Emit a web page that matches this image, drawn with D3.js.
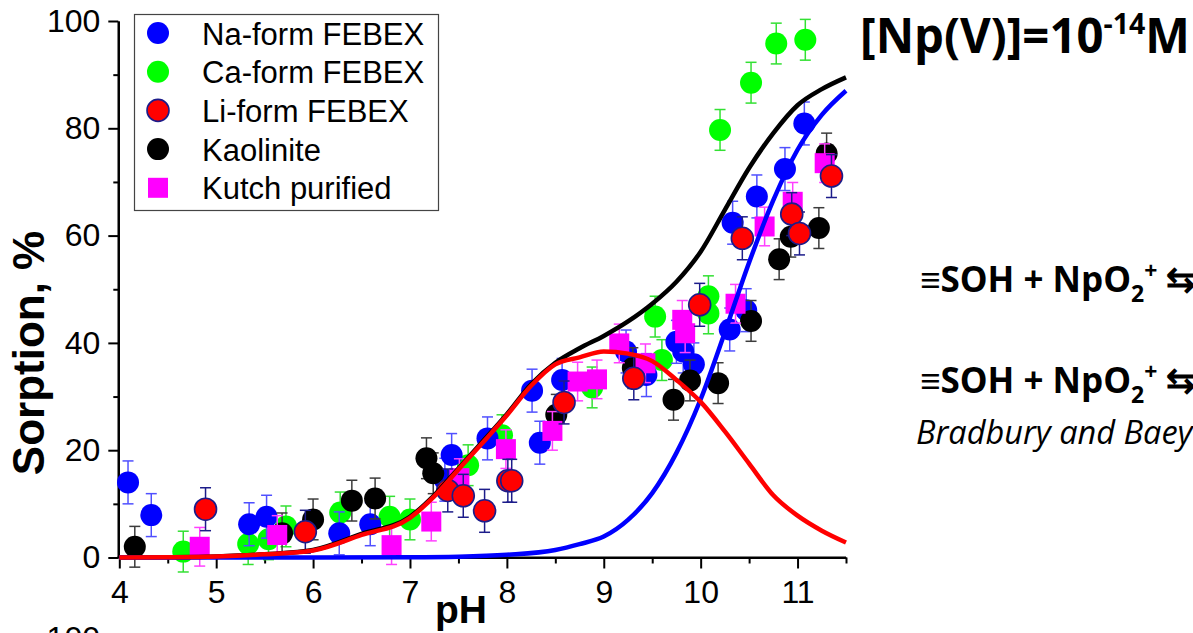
<!DOCTYPE html>
<html>
<head>
<meta charset="utf-8">
<script src="https://cdn.jsdelivr.net/npm/d3@7"></script>
<style>
  html, body { margin: 0; padding: 0; background: #fff; overflow: hidden; }
  svg { display: block; }
</style>
</head>
<body>
<svg id="chart" width="1193" height="633"></svg>
<script>
// ---- measured sorption data (pH, % sorbed) ----
const naPH   = [4.09, 4.33, 5.34, 5.52, 6.27, 6.59, 7.36, 7.43, 7.80, 8.26, 8.34, 8.57, 9.23, 9.44, 9.75, 9.82, 9.93, 10.30, 10.33, 10.47, 10.58, 10.87, 11.07];
const naSorp = [14.0, 7.9, 6.2, 7.6, 4.5, 6.2, 14.5, 19.1, 22.2, 31.1, 21.4, 33.1, 38.4, 34.0, 40.2, 38.4, 36.0, 42.5, 62.4, 46.1, 67.3, 72.4, 80.9];

const caPH   = [4.66, 5.33, 5.54, 5.72, 6.28, 6.79, 7.00, 7.60, 7.95, 8.88, 9.53, 9.60, 10.08, 10.08, 10.20, 10.52, 10.78, 11.08];
const caSorp = [1.1, 2.5, 3.4, 5.8, 8.4, 7.6, 7.1, 17.2, 22.8, 31.7, 44.9, 36.8, 48.7, 45.5, 79.7, 88.5, 95.8, 96.5];

const liPH   = [4.89, 5.92, 7.39, 7.55, 7.77, 8.01, 8.05, 8.59, 9.31, 9.99, 10.43, 10.94, 11.02, 11.35];
const liSorp = [9.0, 4.8, 12.5, 11.5, 8.7, 14.3, 14.3, 28.9, 33.4, 47.1, 59.5, 64.0, 60.4, 71.1];

const kaoPH   = [4.16, 5.68, 6.00, 6.40, 6.64, 7.17, 7.24, 8.51, 9.30, 9.72, 9.89, 10.18, 10.52, 10.81, 10.93, 11.22, 11.30];
const kaoSorp = [2.0, 4.5, 7.1, 10.6, 11.0, 18.5, 15.7, 26.6, 35.3, 29.4, 33.0, 32.5, 44.1, 55.6, 59.8, 61.4, 75.3];

const kutPH   = [4.83, 5.63, 6.81, 7.22, 7.51, 7.99, 8.47, 8.73, 8.93, 9.16, 9.43, 9.81, 9.84, 10.36, 10.66, 10.95, 11.28];
const kutSorp = [2.0, 4.2, 2.3, 6.7, 14.8, 20.2, 23.6, 32.8, 33.2, 39.9, 36.2, 44.3, 41.8, 47.3, 61.7, 66.3, 73.5];

// experimental uncertainty (± % sorbed) for each series
const naErr  = 4, caErr = 3.8, liErr = 4, kaoErr = 3.8, kutErr = 3.6;

// ---- model curves ----
const totalPH   = [4, 4.5, 5, 5.5, 6, 6.5, 7, 7.25, 7.5, 7.75, 8, 8.25, 8.5, 8.75, 9, 9.25, 9.5, 9.75, 10, 10.25, 10.5, 10.75, 11, 11.25, 11.5];
const totalSorp = [0, 0.05, 0.2, 0.6, 1.4, 4.4, 7.6, 11.6, 16.6, 21.6, 26.7, 32.3, 36.3, 39.0, 41.3, 44.0, 47.3, 51.4, 57.0, 64.8, 72.6, 79.1, 84.3, 87.3, 89.5];

const site1PH   = [4, 4.5, 5, 5.5, 6, 6.5, 7, 7.25, 7.5, 7.75, 8, 8.25, 8.5, 8.75, 9, 9.25, 9.5, 9.75, 10, 10.25, 10.5, 10.75, 11, 11.25, 11.5];
const site1Sorp = [0, 0.05, 0.2, 0.6, 1.3, 4.2, 7.4, 11.4, 16.4, 21.4, 26.5, 32.0, 36.0, 37.3, 38.4, 38.0, 36.6, 33.1, 29.0, 23.5, 17.5, 11.6, 7.8, 5.0, 2.8];

const site2PH   = [4, 5, 6, 7, 7.5, 8, 8.5, 8.75, 9, 9.25, 9.5, 9.75, 10, 10.25, 10.5, 10.75, 11, 11.25, 11.5];
const site2Sorp = [0, 0, 0.01, 0.05, 0.15, 0.5, 1.4, 2.5, 3.9, 7.0, 12.0, 19.5, 29.5, 42.0, 55.0, 66.6, 76.0, 82.5, 87.0];

// ---- axis ticks ----
const xMajor = [4, 5, 6, 7, 8, 9, 10, 11];
const xMinor = [4.5, 5.5, 6.5, 7.5, 8.5, 9.5, 10.5, 11.5];
const yMajor = [0, 20, 40, 60, 80, 100];
const yMinor = [10, 30, 50, 70, 90];

const legendNames = ["Na-form FEBEX", "Ca-form FEBEX", "Li-form FEBEX", "Kaolinite", "Kutch purified"];

// ---- build ----
const svg = d3.select("#chart");
const x = d3.scaleLinear().domain([4, 11.5]).range([119.3, 846]);
const y = d3.scaleLinear().domain([0, 100]).range([557.5, 21]);

const zip = (a, b) => a.map((v, i) => ({ x: v, y: b[i] }));

const series = {
  na:  { name: legendNames[0], pts: zip(naPH, naSorp),   err: naErr,  shape: "circle", fill: "#0000ff", stroke: "none",    errColor: "#5050ff" },
  ca:  { name: legendNames[1], pts: zip(caPH, caSorp),   err: caErr,  shape: "circle", fill: "#00ff00", stroke: "none",    errColor: "#33e033" },
  li:  { name: legendNames[2], pts: zip(liPH, liSorp),   err: liErr,  shape: "circle", fill: "#ff0000", stroke: "#1c1c8a", errColor: "#1c1c8a" },
  kao: { name: legendNames[3], pts: zip(kaoPH, kaoSorp), err: kaoErr, shape: "circle", fill: "#000000", stroke: "none",    errColor: "#3c3c3c" },
  kut: { name: legendNames[4], pts: zip(kutPH, kutSorp), err: kutErr, shape: "square", fill: "#ff00ff", stroke: "none",    errColor: "#ff40ff" }
};
const legendOrder = ["na", "ca", "li", "kao", "kut"];
const drawOrder = ["ca", "na", "kao", "kut", "li"];

const R = 11, SQ = 20, CAP = 5.5;

function drawMarker(g, s, cx, cy) {
  if (s.shape === "circle") {
    g.append("circle").attr("cx", cx).attr("cy", cy).attr("r", R)
      .attr("fill", s.fill)
      .attr("stroke", s.stroke).attr("stroke-width", s.stroke === "none" ? 0 : 1.6);
  } else {
    g.append("rect").attr("x", cx - SQ / 2).attr("y", cy - SQ / 2)
      .attr("width", SQ).attr("height", SQ).attr("fill", s.fill);
  }
}

// axes
const axisFont = "'Liberation Sans', Arial, sans-serif";

const gx = svg.append("g").attr("transform", `translate(0,${y(0)})`)
  .call(d3.axisBottom(x).tickValues(xMajor).tickSize(11).tickSizeOuter(0).tickPadding(12).tickFormat(d3.format("d")));
const gxm = svg.append("g").attr("transform", `translate(0,${y(0)})`)
  .call(d3.axisBottom(x).tickValues(xMinor).tickSize(6).tickSizeOuter(0).tickFormat(""));
const gy = svg.append("g").attr("transform", `translate(${x(4) - 1},0)`)
  .call(d3.axisLeft(y).tickValues(yMajor).tickSize(10).tickSizeOuter(0).tickPadding(8).tickFormat(d3.format("d")));
const gym = svg.append("g").attr("transform", `translate(${x(4) - 1},0)`)
  .call(d3.axisLeft(y).tickValues(yMinor).tickSize(5).tickSizeOuter(0).tickFormat(""));

[gx, gxm, gy, gym].forEach(g => {
  g.selectAll("path.domain").attr("stroke", "#000").attr("stroke-width", 2.2);
  g.selectAll(".tick line").attr("stroke", "#000").attr("stroke-width", 2);
  g.selectAll(".tick text").attr("font-family", axisFont).attr("font-size", 32).attr("fill", "#000");
});
gx.select("path.domain").attr("d", `M${x(4) - 2},0H${x(11.5)}`);

// axis titles
svg.append("text").attr("x", 461).attr("y", 623).attr("text-anchor", "middle")
  .attr("font-family", axisFont).attr("font-weight", "bold").attr("font-size", 39).text("pH");
svg.append("text").attr("transform", "translate(44,353) rotate(-90)").attr("text-anchor", "middle")
  .attr("font-family", axisFont).attr("font-weight", "bold").attr("font-size", 44).text("Sorption, %");

// next panel's top tick label, partly below the frame
svg.append("text").attr("x", 100).attr("y", 649).attr("text-anchor", "end")
  .attr("font-family", axisFont).attr("font-size", 32).text("100");

// data: error bars then markers, series by series
const plot = svg.append("g");
drawOrder.forEach(key => {
  const s = series[key];
  const g = plot.append("g");
  s.pts.forEach(p => {
    const cx = x(p.x), y0 = y(p.y - s.err), y1 = y(p.y + s.err);
    g.append("line").attr("x1", cx).attr("x2", cx).attr("y1", y0).attr("y2", y1)
      .attr("stroke", s.errColor).attr("stroke-width", 1.5);
    [y0, y1].forEach(yy => g.append("line").attr("x1", cx - CAP).attr("x2", cx + CAP)
      .attr("y1", yy).attr("y2", yy).attr("stroke", s.errColor).attr("stroke-width", 1.5));
  });
  s.pts.forEach(p => drawMarker(g, s, x(p.x), y(p.y)));
});

// model curves
const line = d3.line().x(d => x(d.x)).y(d => y(d.y)).curve(d3.curveMonotoneX);
[
  { pts: zip(totalPH, totalSorp), color: "#000000" },
  { pts: zip(site2PH, site2Sorp), color: "#0000ff" },
  { pts: zip(site1PH, site1Sorp), color: "#ff0000" }
].forEach(c => {
  svg.append("path").attr("d", line(c.pts)).attr("fill", "none")
    .attr("stroke", c.color).attr("stroke-width", 4.5).attr("stroke-linejoin", "round");
});

// legend
const lg = svg.append("g");
lg.append("rect").attr("x", 134.5).attr("y", 14.5).attr("width", 304).attr("height", 196)
  .attr("fill", "#fff").attr("stroke", "#444").attr("stroke-width", 1.2);
legendOrder.forEach((key, i) => {
  const s = series[key];
  const cy = 33 + i * 38.7;
  drawMarker(lg, s, 158, cy);
  lg.append("text").attr("x", 202).attr("y", cy + 11.5).attr("font-family", axisFont)
    .attr("font-size", 31).attr("fill", "#000").text(s.name);
});

// annotations
const noteFont = "'Open Sans', 'Noto Sans', sans-serif";
const title = svg.append("text").attr("x", 860).attr("y", 53)
  .attr("font-family", noteFont).attr("font-weight", "bold").attr("font-size", 48).attr("fill", "#000");
title.append("tspan").text("[Np(V)]=10");
title.append("tspan").attr("font-size", 29).attr("dy", -19).text("-14");
title.append("tspan").attr("dy", 19).text("M");
// fit the bold heading into its slot
const tb = title.node().getBBox();
title.attr("transform", `translate(860,0) scale(${330 / tb.width},1) translate(-860,0)`);

function equation(yb) {
  const t = svg.append("text").attr("x", 920).attr("y", yb)
    .attr("font-family", noteFont).attr("font-weight", "bold").attr("font-size", 35).attr("fill", "#000");
  t.append("tspan").text("≡SOH + NpO");
  t.append("tspan").attr("font-size", 23).attr("dy", 10).text("2");
  t.append("tspan").attr("font-size", 23).attr("dy", -23).text("+");
  t.append("tspan").attr("dy", 13).text(" ⇆");
  return t;
}
equation(292);
equation(393);
svg.append("text").attr("x", 916).attr("y", 444)
  .attr("font-family", noteFont).attr("font-style", "italic").attr("font-size", 32.5).attr("fill", "#000")
  .text("Bradbury and Baeyens");
</script>
</body>
</html>
